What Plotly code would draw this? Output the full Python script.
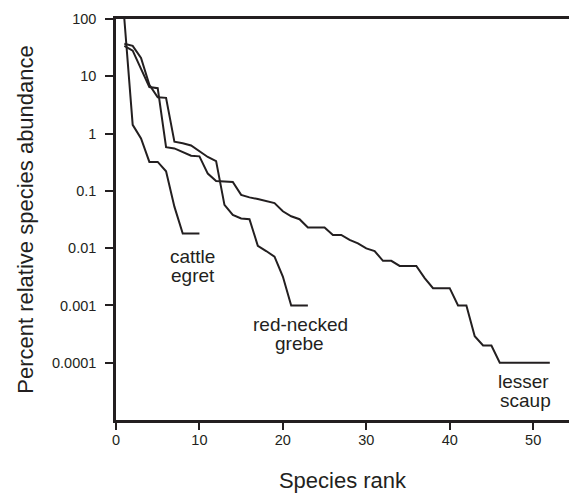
import plotly.graph_objects as go

# ---- data ----
egret_rank = list(range(1, 11))
egret_abund = [100, 1.42, 0.82, 0.32, 0.32, 0.22, 0.053, 0.018, 0.018, 0.018]

grebe_rank = list(range(1, 24))
grebe_abund = [37, 34, 21, 7.1, 4.3, 4.2, 0.72, 0.68, 0.62, 0.50, 0.39, 0.33,
               0.057, 0.038, 0.033, 0.032, 0.011, 0.0089, 0.0071, 0.0032,
               0.001, 0.001, 0.001]

scaup_rank = list(range(1, 53))
scaup_abund = [34, 28, 13.5, 6.5, 6.2, 0.58, 0.55, 0.48, 0.41, 0.40, 0.20, 0.149,
               0.147, 0.143, 0.085, 0.077, 0.072, 0.067, 0.061, 0.044, 0.036,
               0.032, 0.023, 0.023, 0.023, 0.017, 0.017, 0.0139, 0.0121, 0.0099,
               0.0089, 0.0060, 0.0060, 0.0049, 0.0049, 0.0049, 0.0030, 0.002,
               0.002, 0.002, 0.001, 0.001, 0.00029, 0.0002, 0.0002, 0.0001,
               0.0001, 0.0001, 0.0001, 0.0001, 0.0001, 0.0001]

y_tickvals = [100, 10, 1, 0.1, 0.01, 0.001, 0.0001]
y_ticktext = ["100", "10", "1", "0.1", "0.01", "0.001", "0.0001"]
x_tickvals = [0, 10, 20, 30, 40, 50]

# label words with anchor positions (rank, log10 abundance)
label_words = ["cattle", "egret", "red-necked", "grebe", "lesser", "scaup"]
label_x = [9.16, 9.28, 22.1, 21.98, 48.8, 49.04]
label_y = [-2.138, -2.47, -3.325, -3.657, -4.323, -4.655]

INK = "#231f20"
FONT = "Liberation Sans, Arial, sans-serif"

fig = go.Figure()
for r, a in [(egret_rank, egret_abund), (grebe_rank, grebe_abund), (scaup_rank, scaup_abund)]:
    fig.add_trace(go.Scatter(x=r, y=a, mode="lines",
                             line=dict(color=INK, width=2), showlegend=False,
                             cliponaxis=True))

for w, lx, ly in zip(label_words, label_x, label_y):
    fig.add_annotation(x=lx, y=ly, xref="x", yref="y", text=w, showarrow=False,
                       font=dict(family=FONT, size=19, color=INK),
                       xanchor="center", yanchor="middle")

fig.update_layout(
    width=569, height=493,
    margin=dict(l=116, r=0, t=19, b=73),
    paper_bgcolor="white", plot_bgcolor="white",
    font=dict(family=FONT, color=INK),
    showlegend=False,
)
fig.update_xaxes(
    range=[0, 54.3], tickvals=x_tickvals, showgrid=False, zeroline=False,
    showline=True, linecolor=INK, linewidth=2.5, mirror=True,
    ticks="outside", ticklen=7, tickwidth=2, tickcolor=INK,
    tickfont=dict(family=FONT, size=14.5, color=INK),
    ticklabelstandoff=-2,
    title=dict(text="Species rank", font=dict(family=FONT, size=22, color=INK), standoff=46),
    automargin=False,
)
fig.update_yaxes(
    type="log", range=[-5, 2], tickvals=y_tickvals, ticktext=y_ticktext,
    showgrid=False, zeroline=False,
    showline=True, linecolor=INK, linewidth=2.5,
    ticks="outside", ticklen=8, tickwidth=2, tickcolor=INK,
    tickfont=dict(family=FONT, size=14.5, color=INK),
    ticklabelstandoff=6,
    title=dict(text="Percent relative species abundance",
               font=dict(family=FONT, size=22, color=INK), standoff=13),
    automargin=False,
)

fig.write_html(
    "out.html",
    config={"displayModeBar": False},
    post_script="document.body.style.margin='0';document.body.style.overflow='hidden';",
)
